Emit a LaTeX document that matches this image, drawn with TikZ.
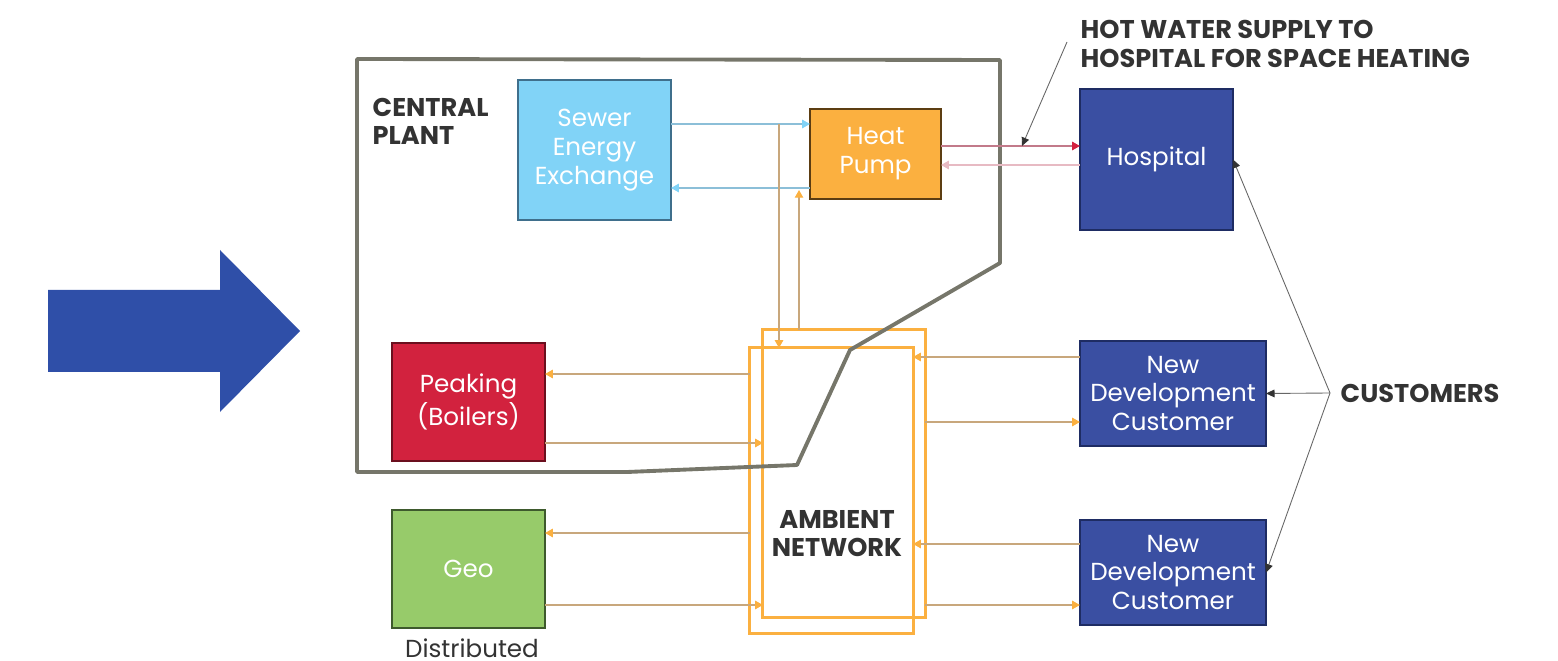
\documentclass[tikz,border=0pt]{standalone}
\usepackage{fontspec}
\setmainfont{Poppins}
\usepackage{xcolor}
\usetikzlibrary{arrows.meta}

\definecolor{bigblue}{HTML}{2F4FA8}
\definecolor{sewerblue}{HTML}{81D3F7}
\definecolor{sewerline}{HTML}{3F6F8C}
\definecolor{hporange}{HTML}{FBB040}
\definecolor{hpline}{HTML}{5C3D12}
\definecolor{custblue}{HTML}{3A4FA2}
\definecolor{custline}{HTML}{1E2C63}
\definecolor{peakred}{HTML}{D2223E}
\definecolor{peakline}{HTML}{6B0F1E}
\definecolor{geogreen}{HTML}{97CB6A}
\definecolor{geoline}{HTML}{3E5A2D}
\definecolor{pipetan}{HTML}{C8A77C}
\definecolor{bluepipe}{HTML}{8CBFD8}
\definecolor{hotline}{HTML}{C27A8A}
\definecolor{hottip}{HTML}{D42040}
\definecolor{retline}{HTML}{E7BAC3}
\definecolor{plantgray}{HTML}{76766A}
\definecolor{txtgray}{HTML}{333333}

\tikzset{
  modbox/.style={draw, line width=0.4pt, text=white, align=center, inner sep=0pt, outer sep=0pt,
    font=\fontsize{7}{8.2}\selectfont},
  ambbox/.style={draw=hporange, line width=0.85pt, inner sep=0pt, outer sep=0pt},
  hdr/.style={text=txtgray, align=left, inner sep=0pt, font=\fontsize{7.3}{8}\selectfont\bfseries},
  pipe/.style={draw=pipetan, line width=0.35pt, -{Triangle[length=2.2pt,width=2.4pt,color=hporange]}},
  bpipe/.style={draw=bluepipe, line width=0.35pt, -{Triangle[length=2.2pt,width=2.4pt,color=sewerblue]}},
  note/.style={draw=black!60, line width=0.25pt, -{Triangle[length=2.4pt,width=2.2pt,color=txtgray]}},
  plant/.style={draw=plantgray, line width=1.1pt, line join=round}
}

\begin{document}
\begin{tikzpicture}[x=0.01cm, y=-0.01cm]
    \useasboundingbox (0,0) rectangle (1558,661);
    % Big arrow
    \fill[bigblue] (48,290) -- (220,290) -- (220,250) -- (300,331) -- (220,412) -- (220,372) -- (48,372) -- cycle;
    % Modules
    \node[modbox, fill=sewerblue, draw=sewerline, minimum width=1.53cm, minimum height=1.40cm] (sewer) at (594.5,150) {Sewer\\Energy\\Exchange};
    \node[modbox, fill=hporange, draw=hpline, minimum width=1.31cm, minimum height=0.90cm] (hp) at (875.5,154) {Heat\\Pump};
    \node[modbox, fill=custblue, draw=custline, minimum width=1.53cm, minimum height=1.41cm] (hosp) at (1156.5,159.5) {Hospital};
    \node[modbox, fill=custblue, draw=custline, minimum width=1.86cm, minimum height=1.05cm] (ndc1) at (1173,393.5) {New\\Development\\Customer};
    \node[modbox, fill=custblue, draw=custline, minimum width=1.86cm, minimum height=1.05cm] (ndc2) at (1173,572.5) {New\\Development\\Customer};
    \node[modbox, fill=peakred, draw=peakline, minimum width=1.53cm, minimum height=1.18cm] (peak) at (468.5,402) {Peaking\\(Boilers)};
    \node[modbox, fill=geogreen, draw=geoline, minimum width=1.53cm, minimum height=1.18cm] (geo) at (468.5,569) {Geo};
    \node[text=txtgray, inner sep=0pt, font=\fontsize{7}{8}\selectfont] (distr) at (472,648) {Distributed};
    % Ambient network
    \node[ambbox, minimum width=1.62cm, minimum height=2.87cm] (amb1) at (844,473.5) {};
    \node[ambbox, minimum width=1.63cm, minimum height=2.85cm] (amb2) at (831.5,490.5) {};
    \node[hdr, align=center] (ambtxt) at (837,534) {AMBIENT\\NETWORK};
    % Outline central plant
    \draw[plant] (357,59) -- (1000,60) -- (1000,263) -- (850,350) -- (797,465) -- (627,472) -- (357,472) -- cycle;
    \node[hdr, anchor=west] (cplant) at (372,121) {CENTRAL\\PLANT};
    % Sewer <-> heat pump
    \draw[bpipe] (sewer.east |- 0,124) -- (hp.west |- 0,124);
    \draw[bpipe] (hp.west |- 0,188) -- (sewer.east |- 0,188);
    \coordinate (tapA) at (779,124);
    \coordinate (tapB) at (799,190);
    \draw[pipe] (tapA) -- (tapA |- amb2.north);
    \draw[pipe] (amb1.north -| tapB) -- (tapB);
    % Heat pump <-> hospital
    \draw[draw=hotline, line width=0.35pt, -{Triangle[length=2.2pt,width=2.4pt,color=hottip]}] (hp.east |- 0,146) -- (hosp.west |- 0,146);
    \draw[draw=retline, line width=0.35pt, -{Triangle[length=2.2pt,width=2.4pt,color=retline]}] (hosp.west |- 0,165) -- (hp.east |- 0,165);
    % Ambient <-> peaking and geo
    \draw[pipe] (amb2.west |- 0,374) -- (peak.east |- 0,374);
    \draw[pipe] (peak.east |- 0,443) -- (amb1.west |- 0,443);
    \draw[pipe] (amb2.west |- 0,533) -- (geo.east |- 0,533);
    \draw[pipe] (geo.east |- 0,605) -- (amb1.west |- 0,605);
    % Ambient <-> customers
    \draw[pipe] (ndc1.west |- 0,357) -- (amb2.east |- 0,357);
    \draw[pipe] (amb1.east |- 0,422) -- (ndc1.west |- 0,422);
    \draw[pipe] (ndc2.west |- 0,544) -- (amb2.east |- 0,544);
    \draw[pipe] (amb1.east |- 0,605) -- (ndc2.west |- 0,605);
    % Labels
    \node[hdr, anchor=west] (hwater) at (1080,44) {HOT WATER SUPPLY TO\\HOSPITAL FOR SPACE HEATING};
    \coordinate (hwFrom) at (1067,42);
    \coordinate (hwTip) at (1022,146);
    \draw[note] (hwFrom) -- (hwTip);
    \node[hdr, anchor=west] (cust) at (1340,393) {CUSTOMERS};
    \coordinate (custFrom) at (1330,393);
    \draw[note] (custFrom) -- (hosp.east);
    \draw[note] (custFrom) -- (ndc1.east);
    \draw[note] (custFrom) -- (ndc2.east);
\end{tikzpicture}
\end{document}
